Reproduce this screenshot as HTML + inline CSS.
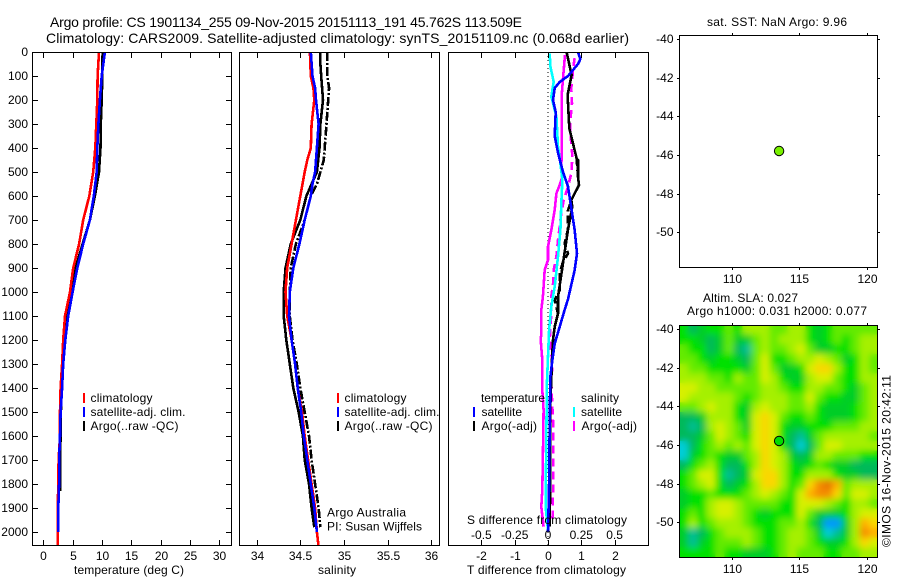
<!DOCTYPE html>
<html>
<head>
<meta charset="utf-8">
<title>Argo profile</title>
<style>
html,body{margin:0;padding:0;background:#fff;width:900px;height:580px;overflow:hidden}
svg{display:block}
text{font-family:"Liberation Sans",sans-serif;font-size:12px;fill:#000}
.t{font-size:14px}
</style>
</head>
<body>
<svg id="fig" xmlns="http://www.w3.org/2000/svg" width="900" height="580" viewBox="0 0 900 580">
<defs>
<clipPath id="clip1"><rect x="32.5" y="52.5" width="199" height="493"/></clipPath>
<clipPath id="clip2"><rect x="239.5" y="52.5" width="200" height="493"/></clipPath>
<clipPath id="clip3"><rect x="448.5" y="52.5" width="200" height="493"/></clipPath>
<clipPath id="clip5"><rect x="679.5" y="325.5" width="198" height="232"/></clipPath>
<filter id="soft" x="-5%" y="-5%" width="110%" height="110%"><feGaussianBlur stdDeviation="3.4"/></filter>
</defs>

<text class="t" x="50" y="27" textLength="472">Argo profile: CS 1901134_255 09-Nov-2015 20151113_191 45.762S 113.509E</text>
<text class="t" x="46" y="43" textLength="583">Climatology: CARS2009. Satellite-adjusted climatology: synTS_20151109.nc (0.068d earlier)</text>

<g id="heat" clip-path="url(#clip5)"></g>
<g id="series"></g>
<g id="axes"></g>

<g>
<text x="90.5" y="402" textLength="62">climatology</text>
<text x="90.5" y="416" textLength="95">satellite-adj. clim.</text>
<text x="90.5" y="430" textLength="88">Argo(..raw -QC)</text>
<line x1="84" x2="84" y1="393" y2="403" stroke="#f00" stroke-width="2"/>
<line x1="84" x2="84" y1="407" y2="417" stroke="#00f" stroke-width="2"/>
<line x1="84" x2="84" y1="421" y2="431" stroke="#000" stroke-width="2"/>
</g>
<g>
<text x="344.5" y="402" textLength="62">climatology</text>
<text x="344.5" y="416" textLength="95">satellite-adj. clim.</text>
<text x="344.5" y="430" textLength="88">Argo(..raw -QC)</text>
<line x1="338" x2="338" y1="393" y2="403" stroke="#f00" stroke-width="2"/>
<line x1="338" x2="338" y1="407" y2="417" stroke="#00f" stroke-width="2"/>
<line x1="338" x2="338" y1="421" y2="431" stroke="#000" stroke-width="2"/>
<text x="327" y="516.5" textLength="79">Argo Australia</text>
<text x="327" y="530.5" textLength="95">PI: Susan Wijffels</text>
</g>
<g>
<text x="481" y="402" textLength="64">temperature</text>
<text x="481.5" y="416" textLength="40.5">satellite</text>
<text x="481.5" y="430" textLength="55.5">Argo(-adj)</text>
<text x="581" y="402" textLength="38">salinity</text>
<text x="581" y="416" textLength="41">satellite</text>
<text x="581.5" y="430" textLength="55.5">Argo(-adj)</text>
<line x1="474" x2="474" y1="407" y2="417" stroke="#00f" stroke-width="2"/>
<line x1="474" x2="474" y1="421" y2="431" stroke="#000" stroke-width="2"/>
<line x1="574" x2="574" y1="407" y2="417" stroke="#0ff" stroke-width="2"/>
<line x1="574" x2="574" y1="421" y2="431" stroke="#f0f" stroke-width="2"/>
</g>

<text x="74" y="574" textLength="110">temperature (deg C)</text>
<text x="318" y="574" textLength="38">salinity</text>
<text x="467" y="524" textLength="160">S difference from climatology</text>
<text x="467" y="574" textLength="159">T difference from climatology</text>
<text x="707" y="26" textLength="140">sat. SST: NaN Argo: 9.96</text>
<text x="703" y="302" textLength="95">Altim. SLA: 0.027</text>
<text x="687" y="315" textLength="180">Argo h1000: 0.031 h2000: 0.077</text>
<text transform="translate(890.5,547) rotate(-90)" textLength="172">©IMOS 16-Nov-2015 20:42:11</text>
</svg>

<script>
// ---- axis tick labels ----
const depthTicks = [0,100,200,300,400,500,600,700,800,900,1000,1100,1200,1300,1400,1500,1600,1700,1800,1900,2000];
const temperatureTicks = [0,5,10,15,20,25,30];
const salinityTicks = [34,34.5,35,35.5,36];
const salinityTickLabels = ['34','34.5','35','35.5','36'];
const tDiffTicks = [-2,-1,0,1,2];
const sDiffTicks = [-0.5,-0.25,0,0.25,0.5];
const sDiffTickLabels = ['-0.5','-0.25','0','0.25','0.5'];
const latTicks = [-40,-42,-44,-46,-48,-50];
const lonTicks = [110,115,120];

// ---- temperature panel ----
const depthStd = [0,100,200,300,400,500,600,700,800,900,1000,1100,1200,1300,1400,1500,1600,1700,1800,1900,2000];
const tempClimDepth = [0,100,200,300,400,500,600,700,800,900,1000,1100,1200,1300,1400,1500,1600,1700,1800,1900,2060];
const tempClim = [9.5,9.26,9.2,9.03,8.86,8.5,7.84,6.8,6.1,5.1,4.55,3.7,3.4,3.2,2.95,2.85,2.85,2.6,2.55,2.45,2.45];
const tempSat = [10.5,9.95,9.65,9.4,9.2,9.1,8.6,7.95,6.8,5.8,5,4.25,3.75,3.4,3.2,2.95,2.85,2.7,2.7,2.55,2.55];
const tempArgoDepth = [0,100,200,300,400,500,600,700,800,900,1000,1100,1200,1300,1400,1500,1600,1700,1830];
const tempArgo = [10.1,10.05,9.95,9.8,9.75,9.5,8.8,7.95,6.7,5.5,4.65,3.95,3.7,3.3,3.1,3,2.95,2.85,2.85];

// ---- salinity panel ----
const salClimDepth = [0,100,150,200,300,400,450,500,600,700,800,900,1000,1100,1200,1300,1400,1500,1600,1700,1800,1900,2000,2060];
const salClim = [34.61,34.62,34.65,34.66,34.63,34.62,34.58,34.55,34.5,34.45,34.4,34.35,34.33,34.35,34.4,34.44,34.47,34.52,34.55,34.59,34.63,34.67,34.69,34.71];
const salSatDepth = [0,100,150,200,300,400,500,550,600,700,800,900,1000,1100,1200,1300,1400,1500,1600,1700,1800,1900,2000];
const salSat = [34.62,34.64,34.67,34.68,34.71,34.69,34.67,34.64,34.62,34.55,34.49,34.42,34.38,34.37,34.4,34.44,34.47,34.51,34.54,34.58,34.62,34.66,34.69];
const salArgoDepth = [0,50,100,200,300,400,500,550,600,700,800,900,1000,1100,1200,1300,1400,1500,1600,1700,1800,1900,1980];
const salArgo = [34.73,34.73,34.74,34.76,34.73,34.72,34.69,34.63,34.57,34.5,34.39,34.33,34.31,34.31,34.34,34.38,34.42,34.48,34.53,34.55,34.6,34.63,34.66];
const salRawDepth = [0,100,150,200,300,400,450,500,550,600,700,800,900,1000,1100,1200,1300,1400,1500,1600,1700,1800,1900,1980];
const salRaw = [34.81,34.81,34.83,34.82,34.8,34.78,34.77,34.73,34.69,34.62,34.55,34.45,34.39,34.38,34.38,34.41,34.46,34.5,34.55,34.6,34.63,34.67,34.71,34.73];

// ---- difference panel ----
const tSatDiffDepth = [0,30,50,75,100,125,150,200,250,350,420,500,560,650,740,840,910,970,1030,1075,1145,1215,1285,1355,1550,1825,2000];
const tSatDiff = [0.9,0.97,0.9,0.75,0.6,0.35,0.2,0.15,0.23,0.2,0.3,0.45,0.6,0.7,0.8,0.87,0.8,0.7,0.6,0.5,0.35,0.2,0.13,0.07,0.05,0.03,0];
const tArgoDiffDepth = [0,96,179,318,443,450,520,554,590,617,645,740,1020,1090,1145,1200,1283,1478,1756,1978];
const tArgoDiff = [0.56,0.71,0.59,0.64,0.86,0.9,0.9,0.93,0.8,0.7,0.73,0.6,0.3,0.3,0.2,0.15,0.12,0.07,0.07,0.05];
const tRawDiffDepth = [0,96,179,318,443,520,554,617,660,740,797,840,875,920,992,1033,1090,1145,1200,1283,1478,1756,1978];
const tRawDiff = [0.56,0.71,0.59,0.64,0.86,0.9,0.93,0.7,0.6,0.6,0.5,0.6,0.45,0.35,0.35,0.2,0.3,0.2,0.15,0.12,0.07,0.07,0.05];
const sSatDiffDepth = [6,61,124,186,269,394,464,533,631,742,853,978,1061,1158,1269,1381,1617,1894,1992];
const sSatDiff = [0.013,0.018,0.043,0.025,0.063,0.075,0.093,0.108,0.1,0.093,0.075,0.05,0.025,0.008,0,-0.008,-0.013,-0.018,0];
const sArgoDiffDepth = [12,96,179,318,443,464,519,554,589,658,742,811,867,908,1019,1075,1172,1200,1283,1408,1492,1686,1825,1894,1978];
const sArgoDiff = [0.128,0.115,0.103,0.103,0.103,0.1,0.108,0.088,0.063,0.05,0.025,0,0,-0.025,-0.038,-0.05,-0.05,-0.055,-0.043,-0.043,-0.033,-0.038,-0.043,-0.05,-0.033];
const sRawDiffDepth = [26,75,151,214,283,339,436,506,561,617,672,783,853,908,964,1019,1089,1200,1297,1381,1547,1825,1964];
const sRawDiff = [0.2,0.188,0.175,0.18,0.168,0.168,0.183,0.175,0.15,0.118,0.1,0.075,0.063,0.043,0.038,0.025,0.025,0.013,0.033,0.025,0.038,0.038,0.033];

// ---- float position ----
const floatLon = [113.509];
const floatLat = [-45.762];

// ---- SLA heatmap: rows north to south, columns west to east ----
const slaGrid = [
[0,-2,-1,0,0,1,0,2,2,2,1,1,2,2,0,-1,0,1,1,1,1,1],
[0,0,-1,-2,-1,1,-1,-1,1,2,1,2,2,2,0,-1,0,1,0,1,2,2],
[1,0,0,-2,-1,1,-2,-3,1,2,1,1,2,3,1,-1,-1,0,0,1,2,2],
[1,1,0,-1,0,0,-1,-2,1,3,0,0,1,2,2,3,2,1,-1,0,2,1],
[2,1,1,0,0,0,0,-1,1,3,1,-1,-1,0,3,4,4,2,0,0,2,1],
[2,2,2,1,1,0,2,1,1,3,2,0,-1,-1,2,3,3,1,0,0,2,2],
[3,3,2,2,1,1,1,1,1,2,2,1,0,0,2,2,1,1,0,-1,1,2],
[3,2,2,2,2,2,1,0,1,2,2,2,1,1,3,1,0,0,-1,-1,1,2],
[1,1,2,3,2,2,0,-1,2,3,2,2,1,1,2,0,-1,-1,-1,0,1,2],
[-2,-2,-1,2,2,2,0,-1,3,4,3,1,0,0,1,0,-1,-1,-1,0,1,2],
[-2,-3,-2,2,3,2,1,-1,3,4,3,0,-1,-1,0,0,0,1,1,1,2,2],
[-2,-2,-1,1,3,2,1,0,3,4,3,0,-2,-3,-1,1,2,2,2,2,2,1],
[-4,-2,0,1,2,1,2,1,3,4,3,0,-2,-4,-2,1,3,3,2,2,2,2],
[-4,-1,0,1,0,-1,-1,1,2,4,3,2,-1,-2,-1,2,2,1,1,1,0,0],
[-2,0,1,2,0,-2,-2,0,2,4,3,2,0,-1,0,1,0,-1,-1,-2,-2,-2],
[0,1,3,3,0,-3,-2,-1,3,4,4,2,0,0,2,2,2,0,-1,-1,-2,-2],
[0,1,2,3,0,-2,-1,0,2,4,4,2,0,1,4,6,7,5,1,2,2,2],
[-1,0,0,1,0,0,0,1,2,3,2,1,0,3,5,6,6,4,1,3,3,2],
[-1,0,0,2,3,3,2,1,1,1,1,0,0,3,3,3,2,1,0,2,2,1],
[0,1,0,2,3,3,2,1,0,-1,0,0,0,3,1,-1,-1,-1,0,2,3,3],
[0,2,0,1,2,2,2,1,0,0,0,1,1,2,0,-2,-5,-5,-1,2,5,4],
[-1,-3,-2,0,1,2,2,2,1,0,0,1,2,2,1,-1,-4,-3,-1,2,6,5],
[-1,-3,-1,0,1,1,1,2,1,0,0,1,2,2,1,0,-1,-1,0,2,4,3],
[0,0,0,0,1,0,0,-1,-1,-1,0,1,2,1,1,1,0,0,1,1,2,2]
];

// ---- axis functions ----
const yDepth = d => 52 + 0.24 * d;
const xTemp = t => 43.3 + 5.867 * t;
const xSal = s => 256.7 + 87.2 * (s - 34);
const xTDiff = t => 548 + 33.3 * t;
const xSDiff = s => 548 + 133.2 * s;
const xLon = l => 731.7 + 13.5 * (l - 110);
const yLatA = l => 39 + 19.33 * (-40 - l);
const yLatB = l => 329 + 19.33 * (-40 - l);

const NS = 'http://www.w3.org/2000/svg';
const seriesG = document.getElementById('series');
const axesG = document.getElementById('axes');
const heatG = document.getElementById('heat');

function level(v){
  const stops = [[-6,0,90,255],[-5,0,150,255],[-4,0,205,215],[-3,0,190,150],[-2,0,185,90],[-1,0,205,40],[0,0,225,0],[1,100,235,0],[2,165,240,0],[3,215,240,0],[4,250,215,0],[5,255,175,0],[6,245,140,0],[7,230,115,0]];
  for(let i=0;i<stops.length-1;i++){
    if(v<=stops[i+1][0]){
      const a=stops[i],b=stops[i+1],f=Math.max(0,(v-a[0])/(b[0]-a[0]));
      return 'rgb('+[1,2,3].map(k=>Math.round(a[k]+(b[k]-a[k])*f)).join(',')+')';
    }
  }
  const e=stops[stops.length-1];
  return 'rgb('+e[1]+','+e[2]+','+e[3]+')';
}

function drawProfile(xs, ds, xFn, color, dash, width, name, clip){
  const p = document.createElementNS(NS,'polyline');
  
  
  p.setAttribute('points', xs.map((v,i)=>xFn(v).toFixed(1)+','+yDepth(ds[i]).toFixed(1)).join(' '));
  p.setAttribute('fill','none');
  p.setAttribute('stroke',color);
  p.setAttribute('stroke-width',width);
  p.setAttribute('clip-path','url(#'+clip+')');
  p.setAttribute('shape-rendering','crispEdges');
  if(dash) p.setAttribute('stroke-dasharray',dash);
  seriesG.appendChild(p);
}

function tick(x1,y1,x2,y2){
  const l = document.createElementNS(NS,'line');
  
  
  l.setAttribute('x1',x1);l.setAttribute('y1',y1);l.setAttribute('x2',x2);l.setAttribute('y2',y2);
  l.setAttribute('stroke','#000');
  l.setAttribute('stroke-width','1');
  axesG.appendChild(l);
}

function label(str,x,y,anchor){
  const t = document.createElementNS(NS,'text');
  
  
  t.setAttribute('x',x);t.setAttribute('y',y);
  t.setAttribute('text-anchor',anchor);
  t.textContent = str;
  axesG.appendChild(t);
}

function frame(x,y,w,h,name){
  const r = document.createElementNS(NS,'rect');
  
  
  r.setAttribute('x',x);r.setAttribute('y',y);r.setAttribute('width',w);r.setAttribute('height',h);
  r.setAttribute('fill','none');
  r.setAttribute('stroke','#000');
  r.setAttribute('stroke-width','1');
  axesG.appendChild(r);
}

function drawHeat(){
  const lon0 = 106.12, lat0 = -39.79;
  const dLon = 14.69 / slaGrid[0].length, dLat = 12 / slaGrid.length;
  const base = document.createElementNS(NS,'g');
  
  
  const soft = document.createElementNS(NS,'g');
  
  
  soft.setAttribute('filter','url(#soft)');
  [base,soft].forEach(g=>{
    slaGrid.forEach((row,j)=>row.forEach((v,i)=>{
      const r = document.createElementNS(NS,'rect');
      
      
      const x0 = xLon(lon0+i*dLon), y0 = yLatB(lat0-j*dLat);
      r.setAttribute('x',x0.toFixed(2));
      r.setAttribute('y',y0.toFixed(2));
      r.setAttribute('width',(dLon*13.5+0.6).toFixed(2));
      r.setAttribute('height',(dLat*19.33+0.6).toFixed(2));
      r.setAttribute('fill',level(v));
      g.appendChild(r);
    }));
    heatG.appendChild(g);
  });
}

function drawDot(yFn, fill, name){
  const c = document.createElementNS(NS,'circle');
  
  
  c.setAttribute('cx',xLon(floatLon[0]).toFixed(1));
  c.setAttribute('cy',(yFn(floatLat[0])+0.6).toFixed(1));
  c.setAttribute('r','4.7');
  c.setAttribute('fill',fill);
  c.setAttribute('stroke','#000');
  c.setAttribute('stroke-width','1');
  axesG.appendChild(c);
}

drawHeat();

// temperature series
drawProfile(tempArgo,tempArgoDepth,xTemp,'#000',null,2.6,'temperature-argo-line','clip1');
drawProfile(tempClim,tempClimDepth,xTemp,'#f00',null,2.6,'temperature-climatology-line','clip1');
drawProfile(tempSat,depthStd,xTemp,'#00f',null,2.6,'temperature-satellite-line','clip1');

// salinity series
drawProfile(salArgo,salArgoDepth,xSal,'#000',null,2.6,'salinity-argo-qc-line','clip2');
drawProfile(salRaw,salRawDepth,xSal,'#000','9 2 2 2',2.6,'salinity-argo-raw-line','clip2');
drawProfile(salClim,salClimDepth,xSal,'#f00',null,2.6,'salinity-climatology-line','clip2');
drawProfile(salSat,salSatDepth,xSal,'#00f',null,2.6,'salinity-satellite-line','clip2');

// difference series
const zero = document.createElementNS(NS,'line');


zero.setAttribute('x1',xTDiff(0));zero.setAttribute('x2',xTDiff(0));
zero.setAttribute('y1',52);zero.setAttribute('y2',545);
zero.setAttribute('stroke','#000');zero.setAttribute('stroke-width','1');zero.setAttribute('stroke-dasharray','1 3');
seriesG.appendChild(zero);
drawProfile(sArgoDiff,sArgoDiffDepth,xSDiff,'#f0f',null,2.6,'salinity-diff-argo-line','clip3');
drawProfile(sRawDiff,sRawDiffDepth,xSDiff,'#f0f','8 5',2.6,'salinity-diff-argo-adj-line','clip3');
drawProfile(tArgoDiff,tArgoDiffDepth,xTDiff,'#000',null,2.6,'temperature-diff-argo-line','clip3');
drawProfile(tRawDiff,tRawDiffDepth,xTDiff,'#000','8 4',2.6,'temperature-diff-argo-adj-line','clip3');
drawProfile(sSatDiff,sSatDiffDepth,xSDiff,'#0ff',null,2.6,'salinity-diff-satellite-line','clip3');
drawProfile(tSatDiff,tSatDiffDepth,xTDiff,'#00f',null,2.6,'temperature-diff-satellite-line','clip3');

// frames
frame(32.5,52.5,199,493,'temperature-panel-frame');
frame(239.5,52.5,200,493,'salinity-panel-frame');
frame(448.5,52.5,200,493,'difference-panel-frame');
frame(679.5,35.5,198,232,'sst-map-frame');
frame(679.5,325.5,198,232,'sla-map-frame');

// depth axis
depthTicks.forEach(d=>{
  const y = Math.round(yDepth(d))+0.5;
  tick(32.5,y,38,y);
  tick(226,y,231.5,y);
  label(String(d),28,y+3.5,'end');
});
// temperature axis
temperatureTicks.forEach(t=>{
  const x = Math.round(xTemp(t))+0.5;
  tick(x,52.5,x,58);
  tick(x,540,x,545.5);
  label(String(t),x,560,'middle');
});
// salinity axis
salinityTicks.forEach((s,i)=>{
  const x = Math.round(xSal(s))+0.5;
  tick(x,52.5,x,58);
  tick(x,540,x,545.5);
  label(salinityTickLabels[i],x,560,'middle');
});
// difference axes
tDiffTicks.forEach(t=>{
  const x = Math.round(xTDiff(t))+0.5;
  tick(x,52.5,x,58);
  tick(x,540,x,545.5);
  label(String(t),x,560,'middle');
});
sDiffTicks.forEach((s,i)=>{
  label(sDiffTickLabels[i],xSDiff(s),539,'middle');
});
// map axes
[[35.5,267.5,yLatA,283],[325.5,557.5,yLatB,573]].forEach(m=>{
  lonTicks.forEach(l=>{
    const x = Math.round(xLon(l))+0.5;
    tick(x,m[0]-2.5,x,m[0]);
    tick(x,m[1],x,m[1]+2.5);
    label(String(l),x,m[3],'middle');
  });
  latTicks.forEach(l=>{
    const y = Math.round(m[2](l))+0.5;
    tick(677,y,679.5,y);
    tick(877.5,y,880,y);
    label(String(l),673.5,y+3.5,'end');
  });
});

drawDot(yLatA,'#78f000','float-position-sst-marker');
drawDot(yLatB,'#00dc00','float-position-sla-marker');
</script>
</body>
</html>
